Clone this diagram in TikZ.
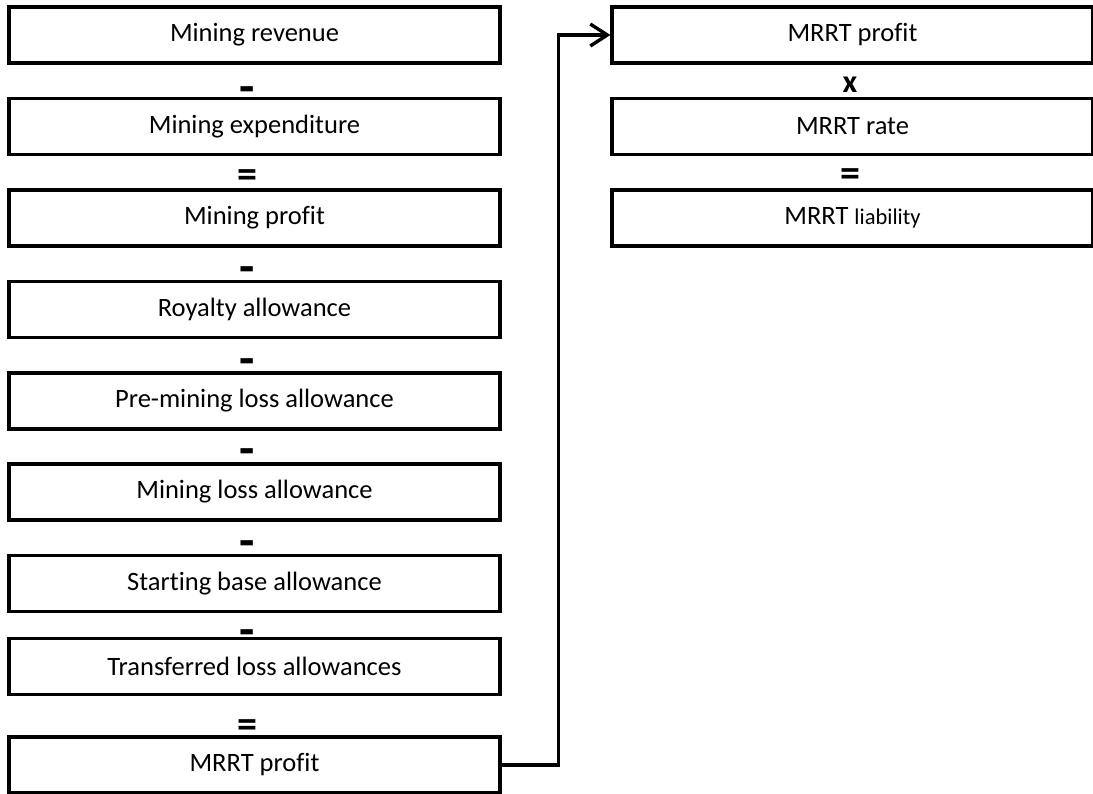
\documentclass[tikz,border=0pt]{standalone}
\usepackage{fontspec}
\setmainfont{Carlito}[Ligatures={NoCommon}]
\usetikzlibrary{arrows.meta}
\tikzset{
  box/.style={draw, line width=3.2pt, fill=white, minimum width=491pt, minimum height=56pt, inner sep=0pt, font=\fontsize{26.5}{30}\selectfont},
  rbox/.style={box, minimum width=481pt},
  sign/.style={font=\bfseries\fontsize{32}{34}\selectfont, inner sep=0pt},
  eq/.style={font=\bfseries\fontsize{40}{42}\selectfont, inner sep=0pt},
  minus/.style={font=\bfseries\fontsize{50}{52}\selectfont, inner sep=0pt},
  conn/.style={line width=3.4pt, -{Straight Barb[length=17pt,width=22pt,line width=3.4pt]}}
}
\begin{document}
\begin{tikzpicture}[x=1pt,y=-1pt]
\useasboundingbox (0,0) rectangle (1093,793);
% signs
\node[minus] (s1) at (247,95) {-};
\node[eq] (s2) at (247.5,179) {=};
\node[minus] (s3) at (247,275) {-};
\node[minus] (s4) at (247,367) {-};
\node[minus] (s5) at (247,457) {-};
\node[minus] (s6) at (247,549) {-};
\node[minus] (s7) at (247,638) {-};
\node[eq] (s8) at (247.5,729) {=};
\node[sign] (r1) at (850,84.5) {x};
\node[eq] (r2) at (850,178) {=};
% left boxes
\node[box] (a1) at (254.5,35) {Mining revenue};
\node[box] (a2) at (254.5,126.5) {Mining expenditure};
\node[box] (a3) at (254.5,218) {Mining profit};
\node[box] (a4) at (254.5,309.5) {Royalty allowance};
\node[box] (a5) at (254.5,401) {Pre-mining loss allowance};
\node[box] (a6) at (254.5,492) {Mining loss allowance};
\node[box] (a7) at (254.5,583.5) {Starting base allowance};
\node[box] (a8) at (254.5,666.5) {Transferred loss allowances};
\node[box] (mp) at (254.5,765) {MRRT profit};
% right boxes
\node[rbox] (rp) at (852.5,35) {MRRT profit};
\node[rbox] (rr) at (852.5,126.5) {MRRT rate};
\node[rbox] (rl) at (852.5,218) {MRRT {\fontsize{22.5}{26}\selectfont liability}};
% connector
\draw[conn] (mp.east) -- ++(57,0) |- (rp.west);
\end{tikzpicture}
\end{document}
